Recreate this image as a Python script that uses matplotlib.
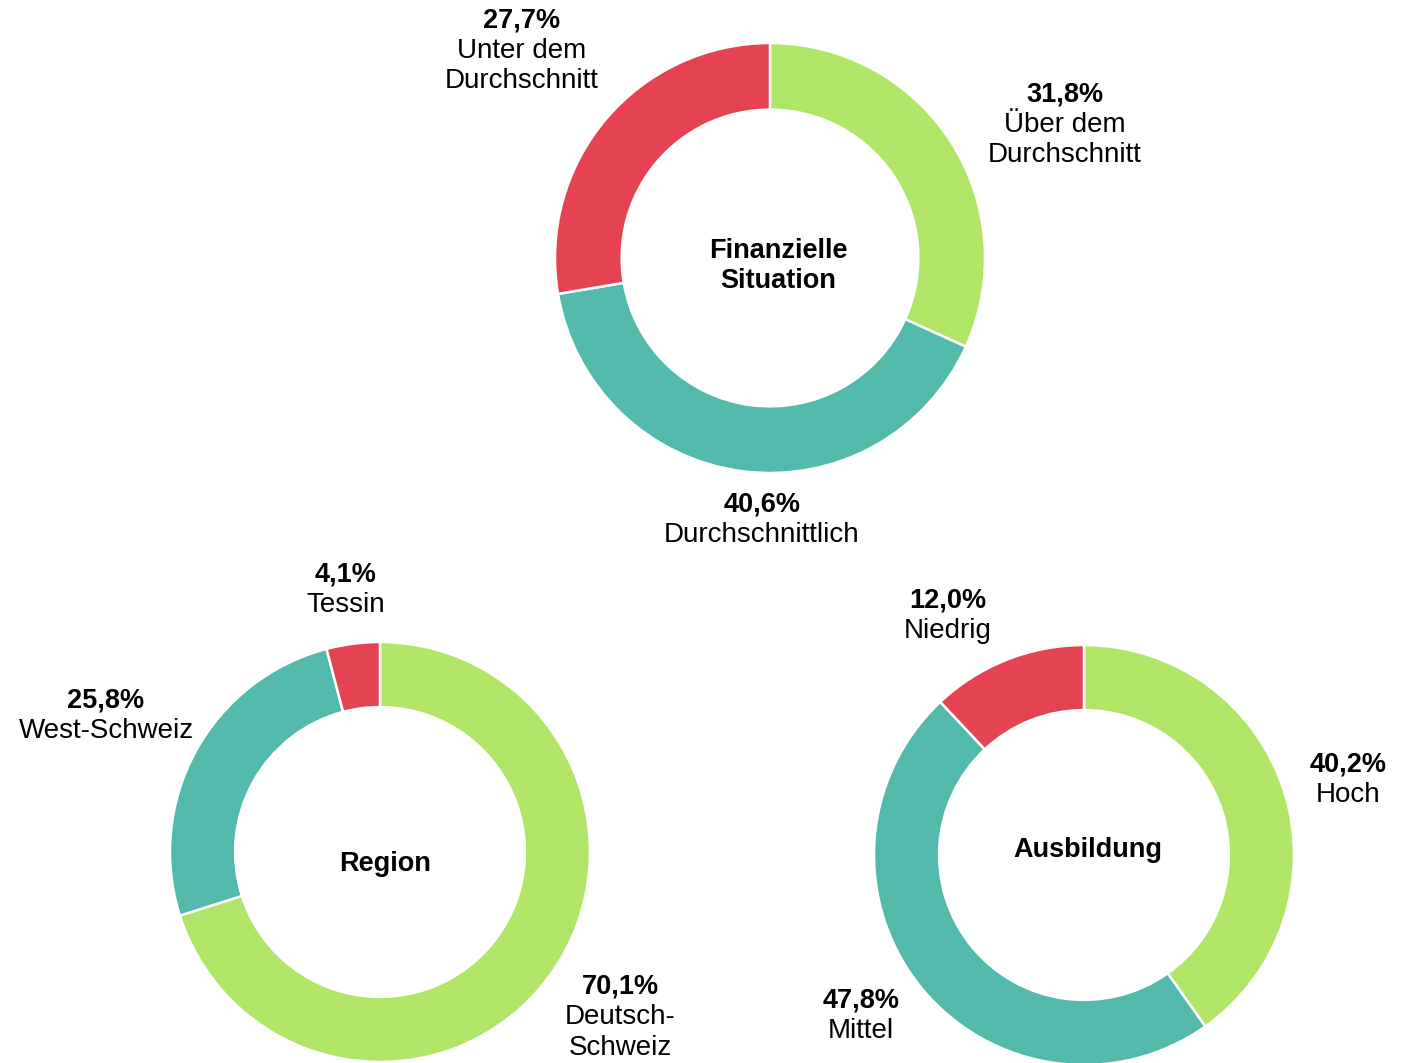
import matplotlib.pyplot as plt

plt.rcParams['font.family'] = ['Liberation Sans', 'DejaVu Sans']

W, H = 1414, 1063

colors = ['#b1e567', '#52b9ab', '#e64352']

# Finanzielle Situation
fin_labels = ['Über dem\nDurchschnitt', 'Durchschnittlich', 'Unter dem\nDurchschnitt']
fin_values = [31.8, 40.6, 27.7]

# Region
reg_labels = ['Deutsch-\nSchweiz', 'West-Schweiz', 'Tessin']
reg_values = [70.1, 25.8, 4.1]

# Ausbildung
aus_labels = ['Hoch', 'Mittel', 'Niedrig']
aus_values = [40.2, 47.8, 12.0]

# layout in pixel coordinates (top-left origin)
charts = [
    dict(title='Finanzielle\nSituation', values=fin_values, labels=fin_labels,
         center=(770, 258), radius=215, title_pos=(778, 266),
         label_pos=[(1065, 94), (762, 504), (522, 20)]),
    dict(title='Region', values=reg_values, labels=reg_labels,
         center=(380, 852), radius=210, title_pos=(385, 864),
         label_pos=[(620, 987), (106, 701), (346, 574)]),
    dict(title='Ausbildung', values=aus_values, labels=aus_labels,
         center=(1084, 855), radius=210, title_pos=(1088, 850),
         label_pos=[(1348, 764), (861, 1001), (948, 600)]),
]

line_h = 30.5
fs = 20

fig = plt.figure(figsize=(W / 100, H / 100), dpi=100)
ax = fig.add_axes([0, 0, 1, 1])

for ch in charts:
    cx, cy = ch['center']
    r = ch['radius']
    ax.pie(ch['values'], colors=colors, startangle=90, counterclock=False,
           center=(cx, H - cy), radius=r,
           wedgeprops=dict(width=r * 0.31, edgecolor='white', linewidth=1.8))
    tx, ty = ch['title_pos']
    ax.text(tx, H - ty, ch['title'], ha='center', va='center', fontsize=fs - 0.5,
            fontweight='bold', linespacing=1.15)
    for val, lab, (lx, ly) in zip(ch['values'], ch['labels'], ch['label_pos']):
        pct = f'{val:.1f}%'.replace('.', ',')
        ax.text(lx, H - ly, pct, ha='center', va='center', fontsize=fs - 0.5, fontweight='bold')
        for k, part in enumerate(lab.split('\n')):
            ax.text(lx, H - ly - line_h * (k + 1), part, ha='center', va='center', fontsize=fs)

ax.set_xlim(0, W)
ax.set_ylim(0, H)
ax.set_aspect('auto')
ax.axis('off')

fig.savefig('out.png', dpi=100)
